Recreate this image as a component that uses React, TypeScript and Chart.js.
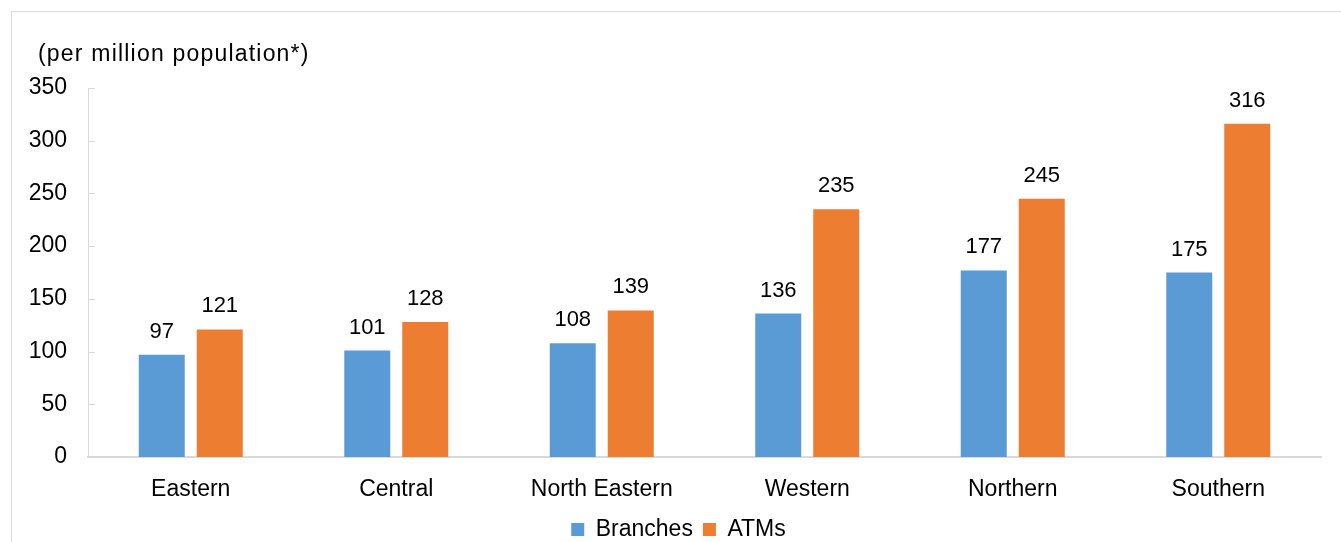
import React, { useEffect, useRef } from "react";
import { Chart, registerables } from "chart.js";

Chart.register(...registerables);

const categories = ["Eastern", "Central", "North Eastern", "Western", "Northern", "Southern"];
const branches = [97, 101, 108, 136, 177, 175];
const atms = [121, 128, 139, 235, 245, 316];
const yTitle = "(per million population*)";
const FONT = "'Liberation Sans', Arial, sans-serif";

const titlePlugin = {
  id: "unitTitle",
  afterDraw(chart: any) {
    const ctx = chart.ctx;
    ctx.save();
    ctx.font = `23px ${FONT}`;
    (ctx as any).letterSpacing = "1.2px";
    ctx.fillStyle = "#000";
    ctx.textBaseline = "middle";
    ctx.textAlign = "left";
    ctx.fillText(yTitle, 26, 43);
    ctx.restore();
  },
};

const legendShift = {
  id: "legendShift",
  afterLayout(chart: any) {
    if (chart.legend) {
      chart.legend.left += 24;
    }
  },
};

const valueLabels = {
  id: "valueLabels",
  afterDatasetsDraw(chart: any) {
    const ctx = chart.ctx;
    ctx.save();
    ctx.font = `22px ${FONT}`;
    ctx.fillStyle = "#000";
    ctx.textAlign = "center";
    ctx.textBaseline = "alphabetic";
    chart.data.datasets.forEach((ds: any, i: number) => {
      const meta = chart.getDatasetMeta(i);
      meta.data.forEach((el: any, j: number) => {
        ctx.fillText(String(ds.data[j]), el.x, el.y - 17);
      });
    });
    ctx.restore();
  },
};

const innerTicks = {
  id: "innerTicks",
  afterDraw(chart: any) {
    const ctx = chart.ctx;
    const y = chart.scales.y;
    const left = chart.chartArea.left;
    ctx.save();
    ctx.strokeStyle = "#d9d9d9";
    ctx.lineWidth = 1;
    y.ticks.forEach((t: any) => {
      const py = Math.round(y.getPixelForValue(t.value)) + 0.5;
      ctx.beginPath();
      ctx.moveTo(left, py);
      ctx.lineTo(left + 7, py);
      ctx.stroke();
    });
    ctx.restore();
  },
};

export default function App() {
  const ref = useRef<HTMLCanvasElement>(null);
  useEffect(() => {
    if (!ref.current) return;
    const chart = new Chart(ref.current, {
      type: "bar",
      data: {
        labels: categories,
        datasets: [
          {
            label: "Branches",
            data: branches,
            backgroundColor: "#5B9BD5",
            categoryPercentage: 0.5645,
            barPercentage: 0.793,
          },
          {
            label: "ATMs",
            data: atms,
            backgroundColor: "#ED7D31",
            categoryPercentage: 0.5645,
            barPercentage: 0.793,
          },
        ],
      },
      options: {
        animation: false,
        responsive: false,
        layout: { padding: { left: 0, right: 20, top: 76, bottom: 11 } },
        plugins: {
          legend: {
            position: "bottom",
            labels: {
              boxWidth: 13,
              boxHeight: 13,
              padding: 10,
              color: "#000",
              font: { family: FONT, size: 23 },
            },
          },
          title: { display: false },
          tooltip: { enabled: false },
        },
        scales: {
          x: {
            grid: { display: false },
            border: { display: true, color: "#d9d9d9", width: 2 },
            ticks: { color: "#000", padding: 11, font: { family: FONT, size: 23 } },
            afterFit(scale: any) {
              scale.height = 51;
            },
          },
          y: {
            min: 0,
            max: 350,
            ticks: { stepSize: 50, color: "#000", padding: 13, font: { family: FONT, size: 23 } },
            grid: { display: false },
            border: { display: true, color: "#d9d9d9", width: 1 },
            afterFit(scale: any) {
              scale.width = 76;
            },
          },
        },
      },
      plugins: [titlePlugin, valueLabels, innerTicks, legendShift],
    } as any);
    return () => chart.destroy();
  }, []);

  return (
    <div
      style={{
        position: "fixed",
        left: 11,
        top: 11,
        width: 1400,
        height: 600,
        border: "1px solid #d9d9d9",
        background: "#fff",
      }}
    >
      <canvas
        ref={ref}
        width={1329}
        height={550}
        style={{ display: "block", width: 1329, height: 550 }}
      />
    </div>
  );
}
